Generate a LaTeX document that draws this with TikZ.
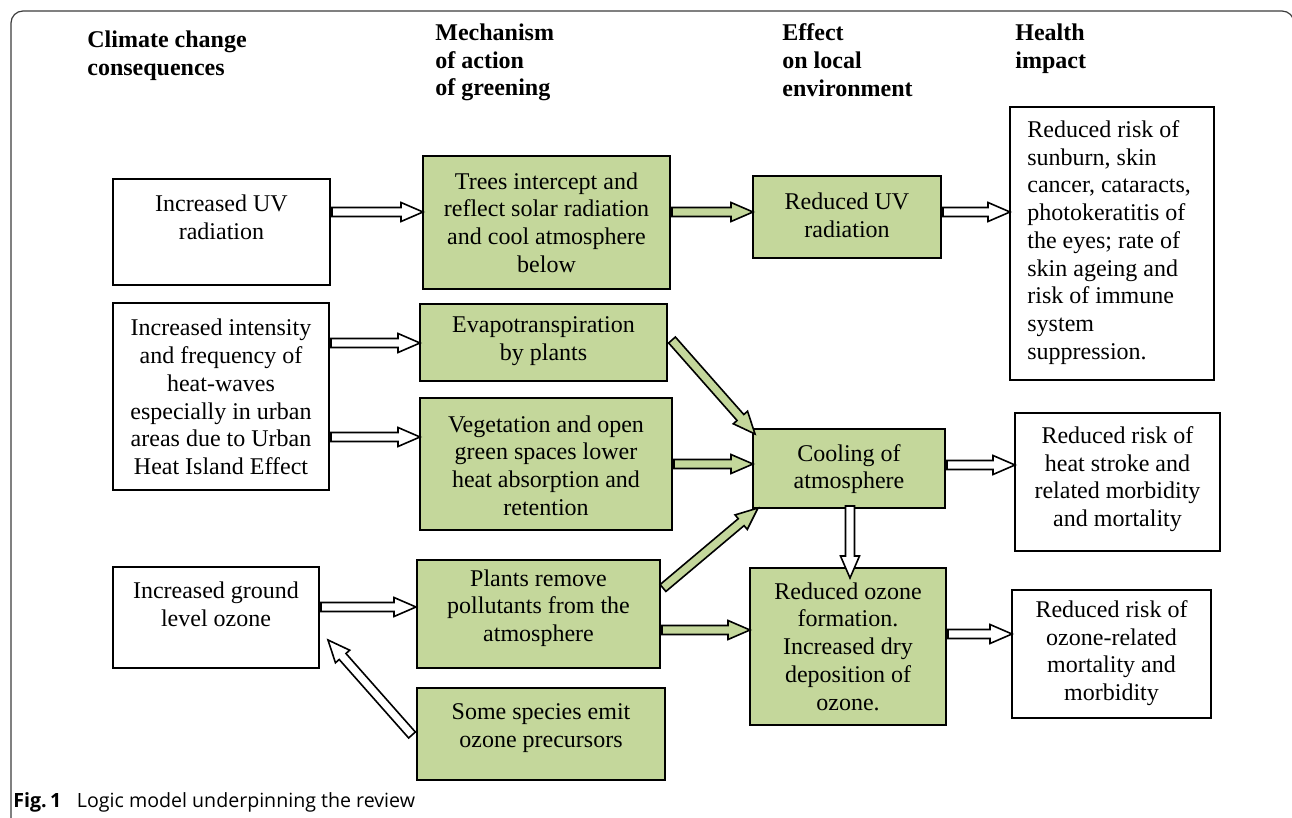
\documentclass[tikz,border=0pt]{standalone}
\usepackage{fontspec}
\setmainfont{Liberation Serif}
\newfontfamily\capfont{Open Sans}
\usetikzlibrary{calc}
\definecolor{grn}{RGB}{196,215,155}
\definecolor{framegray}{RGB}{60,60,60}
\tikzset{
  wbox/.style={draw=black, line width=1pt, fill=white, inner sep=0pt},
  gbox/.style={wbox, fill=grn},
  txt/.style={align=center, inner sep=0pt, font=\fontsize{12}{13.85}\selectfont},
  ltxt/.style={align=left, inner sep=0pt, font=\fontsize{12}{13.85}\selectfont},
  hdr/.style={align=left, inner sep=0pt, anchor=north west, font=\fontsize{12}{13.85}\selectfont\bfseries},
  blk/.style={draw=black, line width=0.8pt, line join=miter},
}
\newcommand\bx[6]{\node[#6, minimum width={(#4-#2)*0.5pt}, minimum height={(#5-#3)*0.5pt}] (#1) at ({(#2+#4)/2},{(#3+#5)/2}) {};}
\newcommand\barr[3][white]{\draw[blk, fill=#1]
  ($(#2)!2.25pt!-90:(#3)$) --
  ($(#3)!11pt!(#2)!2.25pt!-90:(#3)$) --
  ($(#3)!11pt!(#2)!4.75pt!-90:(#3)$) --
  (#3) --
  ($(#3)!11pt!(#2)!4.75pt!90:(#3)$) --
  ($(#3)!11pt!(#2)!2.25pt!90:(#3)$) --
  ($(#2)!2.25pt!90:(#3)$) -- cycle;}
\begin{document}
\begin{tikzpicture}[x=0.5pt, y=-0.5pt]
\useasboundingbox (0,0) rectangle (1292,818);
% frame
\draw[framegray, line width=0.6pt, rounded corners=6pt] (11,840) -- (11,11) -- (1294,11) -- (1294,840);

% headers
\node[hdr] (h1) at (87,30.5) {Climate change\\consequences};
\node[hdr] (h2) at (435,23.5) {Mechanism\\of action\\of greening};
\node[hdr] (h3) at (782,23.5) {Effect\\on local\\environment};
\node[hdr] (h4) at (1015,23.5) {Health\\impact};

% column 1
\bx{b1}{113}{179}{330}{285}{wbox}
\node[txt] (b1t) at (221.5,217) {Increased UV\\radiation};
\bx{b2}{113}{303}{329}{490}{wbox}
\node[txt] (b2t) at (221,397) {Increased intensity\\and frequency of\\heat-waves\\especially in urban\\areas due to Urban\\Heat Island Effect};
\bx{b3}{113}{567}{319}{668}{wbox}
\node[txt] (b3t) at (216,604) {Increased ground\\level ozone};

% column 2
\bx{g1}{423}{156}{670}{289}{gbox}
\node[txt] (g1t) at (546.5,222.5) {Trees intercept and\\reflect solar radiation\\and cool atmosphere\\below};
\bx{g2}{420}{304}{667}{381}{gbox}
\node[txt] (g2t) at (543.5,341) {Evapotranspiration\\by plants};
\bx{g3}{420}{398}{672}{530}{gbox}
\node[txt] (g3t) at (546,465.5) {Vegetation and open\\green spaces lower\\heat absorption and\\retention};
\bx{g4}{417}{560}{660}{668}{gbox}
\node[txt] (g4t) at (538.5,608) {Plants remove\\pollutants from the\\atmosphere};
\bx{g5}{417}{688}{665}{780}{gbox}
\node[txt] (g5t) at (541,728) {Some species emit\\ozone precursors};

% column 3
\bx{g6}{753}{176}{941}{258}{gbox}
\node[txt] (g6t) at (847,215) {Reduced UV\\radiation};
\bx{g7}{753}{429}{945}{508}{gbox}
\node[txt] (g7t) at (849,469) {Cooling of\\atmosphere};
\bx{g8}{750}{568}{946}{725}{gbox}
\node[txt] (g8t) at (848,646.5) {Reduced ozone\\formation.\\Increased dry\\deposition of\\ozone.};

% column 4
\bx{w1}{1010}{107}{1214}{380}{wbox}
\node[ltxt, anchor=west] (w1t) at (1027,242.5) {Reduced risk of\\sunburn, skin\\cancer, cataracts,\\photokeratitis of\\the eyes; rate of\\skin ageing and\\risk of immune\\system\\suppression.};
\bx{w2}{1015}{413}{1220}{551}{wbox}
\node[txt] (w2t) at (1117.5,479) {Reduced risk of\\heat stroke and\\related morbidity\\and mortality};
\bx{w3}{1012}{590}{1211}{718}{wbox}
\node[txt] (w3t) at (1111.5,653) {Reduced risk of\\ozone-related\\mortality and\\morbidity};

% arrow end points
\coordinate (a1s) at (332,212);  \coordinate (a1e) at (423,212);
\coordinate (a2s) at (672,212);  \coordinate (a2e) at (753,212);
\coordinate (a3s) at (943,212);  \coordinate (a3e) at (1010,212);
\coordinate (a4s) at (331,343);  \coordinate (a4e) at (420,343);
\coordinate (a5s) at (331,437);  \coordinate (a5e) at (420,437);
\coordinate (a6s) at (672,340);  \coordinate (a6e) at (755,434);
\coordinate (a7s) at (674,464);  \coordinate (a7e) at (753,464);
\coordinate (a8s) at (663,588);  \coordinate (a8e) at (758,508);
\coordinate (a9s) at (662,630);  \coordinate (a9e) at (750,630);
\coordinate (a10s) at (321,607); \coordinate (a10e) at (416,607);
\coordinate (a11s) at (412,735); \coordinate (a11e) at (328,640);
\coordinate (a12s) at (850,506); \coordinate (a12e) at (850,578);
\coordinate (a13s) at (947,465); \coordinate (a13e) at (1015,465);
\coordinate (a14s) at (948,634); \coordinate (a14e) at (1012,634);

\barr{a1s}{a1e}
\barr[grn]{a2s}{a2e}
\barr{a3s}{a3e}
\barr{a4s}{a4e}
\barr{a5s}{a5e}
\barr[grn]{a6s}{a6e}
\barr[grn]{a7s}{a7e}
\barr[grn]{a8s}{a8e}
\barr[grn]{a9s}{a9e}
\barr{a10s}{a10e}
\barr{a11s}{a11e}
\barr{a12s}{a12e}
\barr{a13s}{a13e}
\barr{a14s}{a14e}

% caption
\node[anchor=west, inner sep=0pt, font=\capfont\fontsize{9.8}{11}\selectfont] (cap) at (13,802) {\textbf{Fig.\,1}\hspace{0.8em}Logic model underpinning the review};
\end{tikzpicture}
\end{document}
